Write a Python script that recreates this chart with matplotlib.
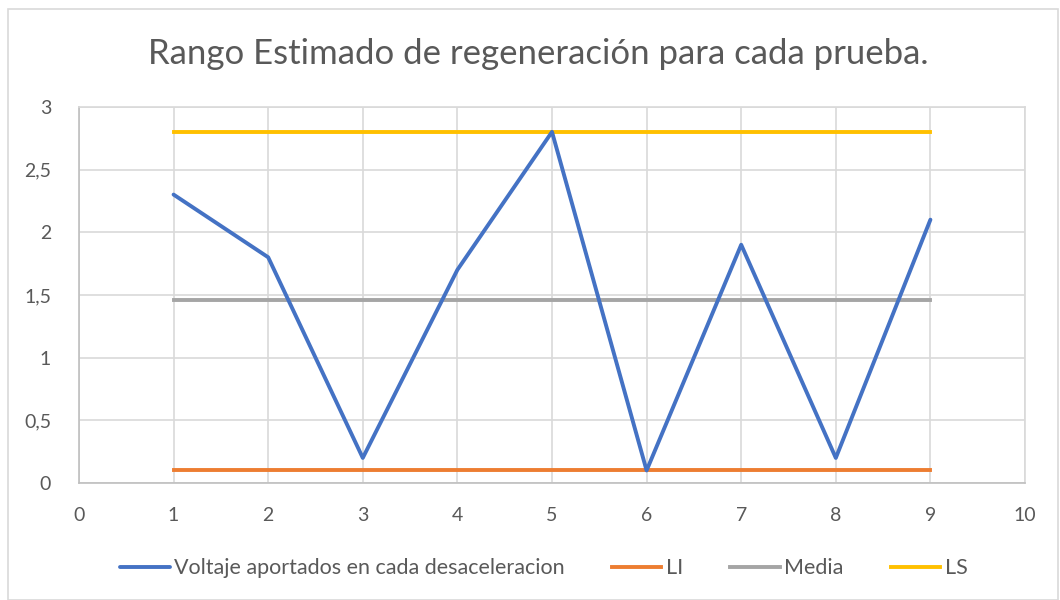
import numpy as np
import matplotlib
matplotlib.use("Agg")
import matplotlib.pyplot as plt
from matplotlib.patches import Rectangle
from matplotlib.ticker import FuncFormatter

plt.rcParams['font.family'] = ['Lato', 'DejaVu Sans']

# prueba / voltaje
pruebas = [1, 2, 3, 4, 5, 6, 7, 8, 9]
voltaje = [2.3, 1.8, 0.2, 1.7, 2.8, 0.1, 1.9, 0.2, 2.1]
li = 0.1
ls = 2.8
media = np.mean(voltaje)

azul = '#4472C4'
naranja = '#ED7D31'
gris = '#A5A5A5'
amarillo = '#FFC000'
texto = '#595959'

fig = plt.figure(figsize=(10.6, 6), dpi=100)
ax = fig.add_axes([0.0745, 0.195, 0.8925, 0.627])

n = len(pruebas)
ax.plot(pruebas, voltaje, color=azul, lw=2.8, solid_capstyle='round',
        label='Voltaje aportados en cada desaceleracion', zorder=5)
ax.plot(pruebas, [li] * n, color=naranja, lw=2.8, label='LI', zorder=4)
ax.plot(pruebas, [media] * n, color=gris, lw=2.8, label='Media', zorder=4)
ax.plot(pruebas, [ls] * n, color=amarillo, lw=2.8, label='LS', zorder=4)

ax.set_xlim(0, 10)
ax.set_ylim(0, 3)
ax.set_xticks(range(0, 11))
ax.set_yticks(np.arange(0, 3.01, 0.5))
ax.yaxis.set_major_formatter(FuncFormatter(lambda v, p: ('%g' % v).replace('.', ',')))
ax.grid(True, color='#D9D9D9', lw=1.2)
ax.set_axisbelow(True)
for s in ax.spines.values():
    s.set_color('#D9D9D9')
    s.set_linewidth(1.2)
ax.spines['bottom'].set_color('#BFBFBF')
ax.spines['left'].set_color('#BFBFBF')
ax.tick_params(axis='x', length=0, labelsize=14, colors=texto, pad=17)
ax.tick_params(axis='y', length=0, labelsize=14, colors=texto, pad=20)

fig.text(0.508, 0.91, 'Rango Estimado de regeneración para cada prueba.',
         ha='center', va='center', fontsize=25, color=texto)

leg = fig.legend(loc='center', bbox_to_anchor=(0.513, 0.053), ncol=4, frameon=False,
                 fontsize=15.5, handlelength=2.3, columnspacing=2.2, handletextpad=0.2)
for t in leg.get_texts():
    t.set_color(texto)

fig.patches.append(Rectangle((0.008, 0.0), 0.99, 0.985, transform=fig.transFigure,
                             fill=False, edgecolor='#D9D9D9', lw=1.2))

fig.savefig('out.png', dpi=100)
